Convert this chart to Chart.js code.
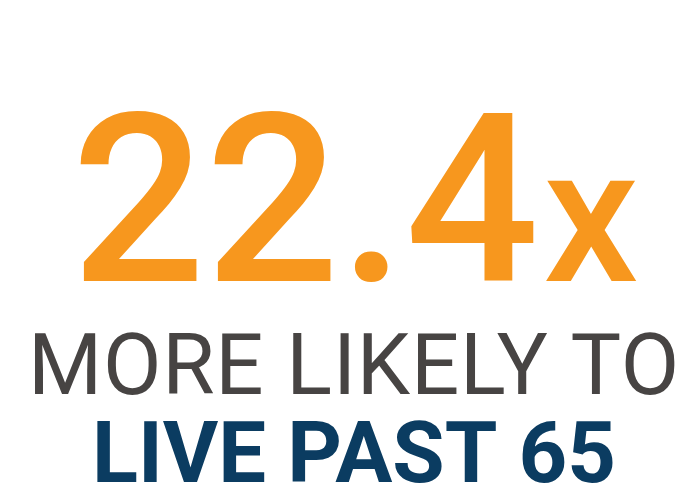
<!DOCTYPE html>
<html>
<head>
<meta charset="utf-8">
<script src="https://cdn.jsdelivr.net/npm/chart.js@4/dist/chart.umd.min.js"></script>
<style>
html,body{margin:0;padding:0;background:#fff;}
#wrap{width:680px;height:500px;}
</style>
</head>
<body>
<div id="wrap"><canvas id="c" width="680" height="500"></canvas></div>
<script>
const statValue = [22.4];
const statSuffix = ['x'];
const lineOne = ['MORE LIKELY TO'];
const lineTwo = ['LIVE PAST 65'];

const textPlugin = {
  id: 'statText',
  afterDraw(chart) {
    const ctx = chart.ctx;
    const cx = 354;
    ctx.save();
    ctx.textBaseline = 'alphabetic';
    const numStr = statValue[0].toFixed(1);
    ctx.font = '500 236px Roboto';
    const wNum = ctx.measureText(numStr).width;
    ctx.font = '500 190px Roboto';
    const wSuf = ctx.measureText(statSuffix[0]).width;
    const gap = 4;
    let x0 = cx + 1 - (wNum + gap + wSuf) / 2;
    ctx.fillStyle = '#F7971E';
    ctx.textAlign = 'left';
    ctx.font = '500 236px Roboto';
    ctx.fillText(numStr, x0, 281);
    ctx.font = '500 190px Roboto';
    ctx.fillText(statSuffix[0], x0 + wNum + gap, 281);
    ctx.textAlign = 'center';
    ctx.letterSpacing = '0.8px';
    ctx.font = '400 85px Roboto';
    ctx.fillStyle = '#474443';
    ctx.fillText(lineOne[0], cx, 394);
    ctx.letterSpacing = '0px';
    ctx.font = '700 85px Roboto';
    ctx.fillStyle = '#0B3C61';
    ctx.fillText(lineTwo[0], cx, 482);
    ctx.restore();
  }
};

new Chart(document.getElementById('c'), {
  type: 'bar',
  data: { labels: [], datasets: [] },
  options: {
    responsive: false,
    animation: false,
    events: [],
    plugins: { legend: { display: false }, tooltip: { enabled: false }, title: { display: false } },
    scales: { x: { display: false }, y: { display: false } }
  },
  plugins: [textPlugin]
});
</script>
</body>
</html>
